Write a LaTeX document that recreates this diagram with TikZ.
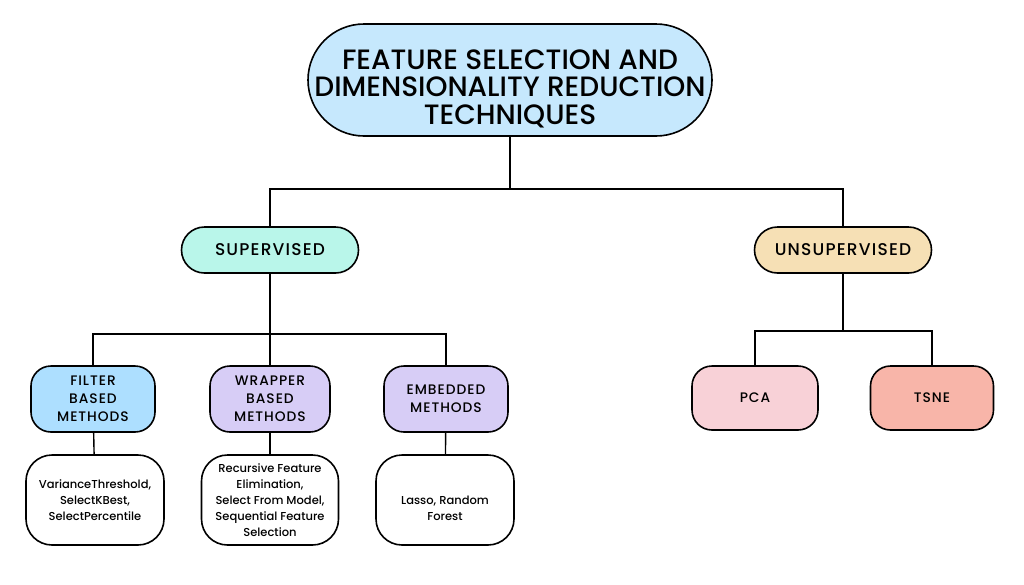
\documentclass[tikz,border=0pt]{standalone}
\usepackage{fontspec}
\setmainfont{Poppins Medium}
\definecolor{titleblue}{HTML}{C6E8FD}
\definecolor{mint}{HTML}{B9F6EA}
\definecolor{wheat}{HTML}{F6E0B5}
\definecolor{skyblue}{HTML}{ADDFFF}
\definecolor{lavender}{HTML}{D7CDF6}
\definecolor{pink}{HTML}{F8D1D7}
\definecolor{salmon}{HTML}{F8B5A9}
\newfontfamily\spaced{Poppins Medium}[LetterSpace=7]
\newcommand{\lowered}[2]{\raisebox{-#1}[\height][\depth]{\begin{tabular}{@{}c@{}}#2\end{tabular}}}
\begin{document}
\begin{tikzpicture}[x=1pt, y=-1pt, thick,
  main/.style = {draw, line width=1.6pt, align=center, inner sep=0pt},
  big/.style = {main, fill=titleblue, minimum width=404pt, minimum height=112pt, rounded corners=56pt, font=\fontsize{28}{26}\selectfont},
  mid/.style = {main, minimum width=177pt, minimum height=46pt, rounded corners=23pt, font=\spaced\fontsize{17}{17}\selectfont},
  method/.style = {main, minimum width=124pt, minimum height=66pt, rounded corners=20pt, font=\spaced\fontsize{13.8}{18}\selectfont},
  leaf/.style = {main, fill=white, minimum width=138pt, minimum height=90pt, rounded corners=26pt, font=\fontsize{11.5}{16}\selectfont},
  link/.style = {line width=1.4pt}]
  \useasboundingbox (0,0) rectangle (1024,584);
  \node[big] (title) at (510,80) {\lowered{11pt}{FEATURE SELECTION AND\\DIMENSIONALITY REDUCTION\\TECHNIQUES}};
  \node[mid, fill=mint] (sup) at (270,250) {SUPERVISED};
  \node[mid, fill=wheat] (unsup) at (843,250) {UNSUPERVISED};
  \node[method, fill=skyblue] (filter) at (93,399) {FILTER\\BASED\\METHODS};
  \node[method, fill=lavender, minimum width=120pt] (wrapper) at (270,399) {WRAPPER\\BASED\\METHODS};
  \node[method, fill=lavender] (embedded) at (446,399) {EMBEDDED\\METHODS};
  \node[method, fill=pink, minimum width=126pt, minimum height=64pt] (pca) at (755,398) {PCA};
  \node[method, fill=salmon, minimum width=123pt, minimum height=64pt] (tsne) at (932,398) {TSNE};
  \node[leaf] (filterlist) at (95,500) {VarianceThreshold,\\SelectKBest,\\SelectPercentile};
  \node[leaf, minimum width=137pt] (wrapperlist) at (270,500) {Recursive Feature\\Elimination,\\Select From Model,\\Sequential Feature\\Selection};
  \node[leaf] (embeddedlist) at (445,500) {\lowered{9pt}{Lasso, Random\\Forest}};
  \coordinate (split) at (510,189);
  \coordinate (supsplit) at (270,334);
  \coordinate (unsupsplit) at (843,331);
  \draw[link] (title) -- (split) -| (sup);
  \draw[link] (split) -| (unsup);
  \draw[link] (sup) -- (supsplit) -| (filter);
  \draw[link] (supsplit) -| (embedded);
  \draw[link] (supsplit) -- (wrapper);
  \draw[link] (unsup) -- (unsupsplit) -| (pca);
  \draw[link] (unsupsplit) -| (tsne);
  \draw[link] (filter) -- (filterlist);
  \draw[link] (wrapper) -- (wrapperlist);
  \draw[link] (embedded) -- (embeddedlist);
\end{tikzpicture}
\end{document}
